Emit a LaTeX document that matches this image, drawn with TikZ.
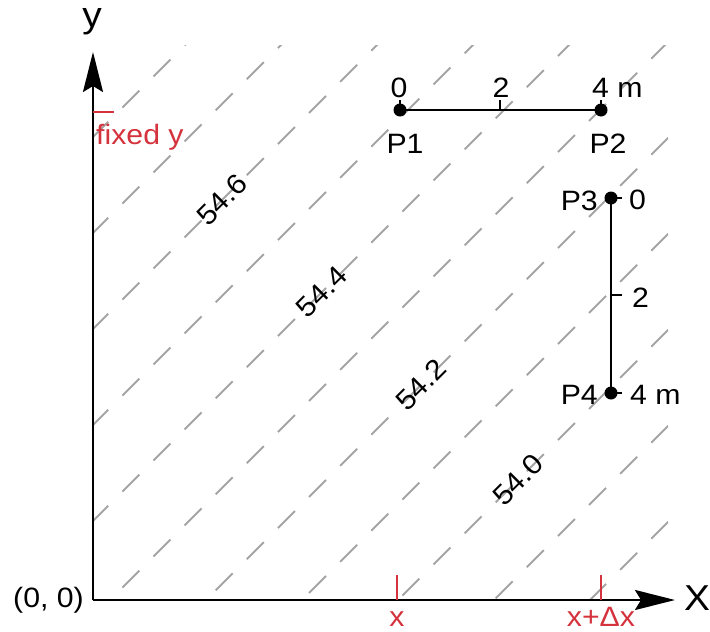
\documentclass[tikz,border=0pt]{standalone}
\usepackage{fontspec}
\setmainfont[FakeStretch=1.08]{Liberation Sans}
\usetikzlibrary{arrows.meta}
\definecolor{tickred}{RGB}{212,50,60}
\definecolor{contour}{RGB}{165,165,165}
\begin{document}
\begin{tikzpicture}[x=1pt,y=-1pt,
  lbl/.style={font=\fontsize{28}{32}\selectfont, inner sep=0pt},
  big/.style={font=\fontsize{36}{40}\selectfont, inner sep=0pt},
  redlbl/.style={lbl, text=tickred},
  axisline/.style={line width=2.4pt, -{Stealth[length=40pt,width=20pt,inset=6pt]}},
  bar/.style={line width=2.2pt},
  redtick/.style={line width=2pt, draw=tickred},
  dot/.style={circle, fill=black, inner sep=0pt, minimum size=13pt},
  contourline/.style={draw=contour, line width=2pt, dash pattern=on 24pt off 20pt},
  clabel/.style={lbl, rotate=45},
]
\useasboundingbox (0,0) rectangle (710,632);
% contour lines
\begin{scope}
\clip (93,45) rectangle (668,600);
\foreach \c in {230,326,...,1190} {
  \draw[contourline] ({-95.4},{\c+95.4}) -- ++(800,-800);
}
\end{scope}
\node[clabel] (l546) at (222,200) {54.6};
\node[clabel] (l544) at (322,292) {54.4};
\node[clabel] (l542) at (421,385) {54.2};
\node[clabel] (l540) at (518,480) {54.0};
% axes
\coordinate (O) at (93,600);
\coordinate (Yt) at (93,52);
\coordinate (Xt) at (675,600);
\draw[axisline] (O) -- (Yt);
\draw[axisline] (O) -- (Xt);
\node[big] (ylab) at (92,22) {y};
\node[big] (xlab) at (697,598) {X};
\node[lbl, anchor=east] (orig) at (84,600) {(0, 0)};
% red ticks
\coordinate (xa) at (397,600);
\coordinate (xat) at (397,575);
\coordinate (xb) at (601,600);
\coordinate (xbt) at (601,575);
\coordinate (fya) at (93,112);
\coordinate (fyb) at (114,112);
\draw[redtick] (xa) -- (xat);
\draw[redtick] (xb) -- (xbt);
\draw[redtick] (fya) -- (fyb);
\node[redlbl, anchor=base] (xl) at (397,626) {x};
\node[redlbl, anchor=base] (xdl) at (601,626) {x+Δx};
\node[redlbl, anchor=base west] (fy) at (96,144) {fixed y};
% horizontal scale P1-P2
\node[dot] (P1) at (400,110) {};
\node[dot] (P2) at (601,110) {};
\coordinate (M12) at (500,110);
\coordinate (T1) at (400,100);
\coordinate (T2) at (601,100);
\coordinate (TM12) at (500,100);
\draw[bar] (P1.center) -- (P2.center);
\draw[bar] (P1.center) -- (T1);
\draw[bar] (P2.center) -- (T2);
\draw[bar] (M12) -- (TM12);
\node[lbl, anchor=base] (h0) at (399,97) {0};
\node[lbl, anchor=base] (h2) at (501,97) {2};
\node[lbl, anchor=base west] (h4) at (592,97) {4 m};
\node[lbl, anchor=base] (lP1) at (405,153) {P1};
\node[lbl, anchor=base] (lP2) at (608,153) {P2};
% vertical scale P3-P4
\node[dot] (P3) at (611,198) {};
\node[dot] (P4) at (611,393) {};
\coordinate (M34) at (611,295);
\coordinate (T3) at (622,198);
\coordinate (T4) at (622,393);
\coordinate (TM34) at (622,295);
\draw[bar] (P3.center) -- (P4.center);
\draw[bar] (P3.center) -- (T3);
\draw[bar] (P4.center) -- (T4);
\draw[bar] (M34) -- (TM34);
\node[lbl, anchor=base west] (v0) at (629,209) {0};
\node[lbl, anchor=base west] (v2) at (632,307) {2};
\node[lbl, anchor=base west] (v4) at (630,404) {4 m};
\node[lbl, anchor=base east] (lP3) at (598,210) {P3};
\node[lbl, anchor=base east] (lP4) at (598,404) {P4};
\end{tikzpicture}
\end{document}
